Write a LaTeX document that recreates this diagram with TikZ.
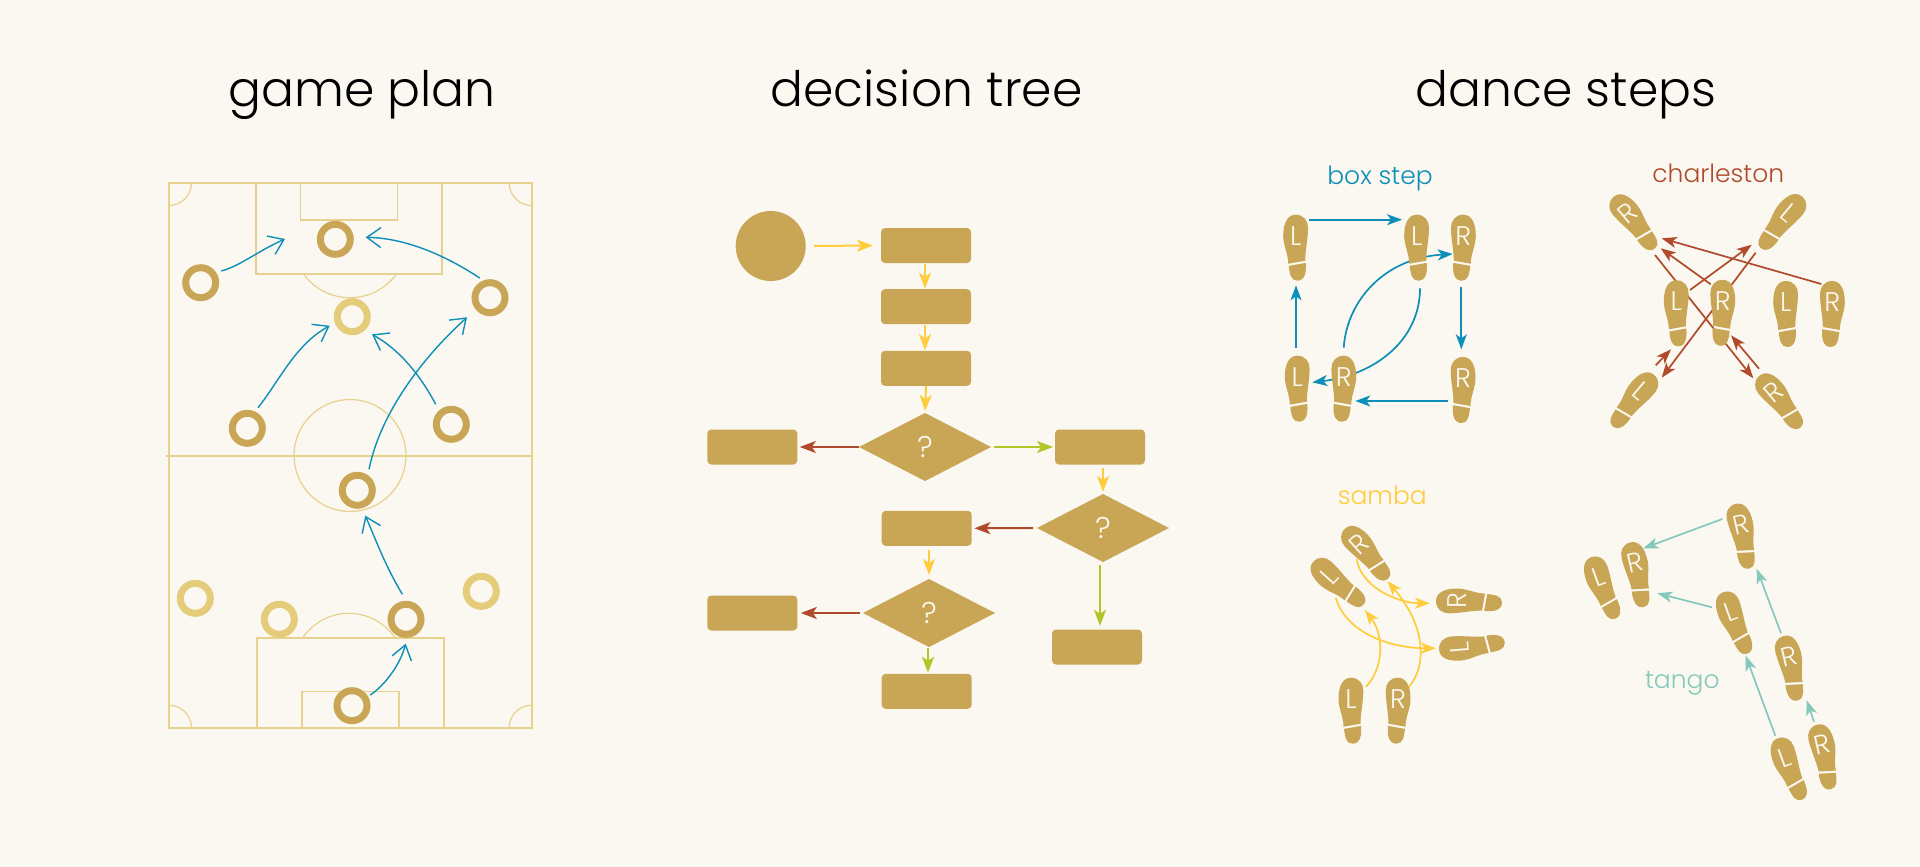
\documentclass[tikz,border=0pt]{standalone}
\usepackage{fontspec}
\setmainfont{Poppins Light}
\usetikzlibrary{arrows.meta,shapes.geometric}
\definecolor{cbg}{HTML}{FBF8F1}
\definecolor{cgold}{HTML}{C8A656}
\definecolor{clight}{HTML}{E5CC7B}
\definecolor{cline}{HTML}{E8D18C}
\definecolor{cblue}{HTML}{0E8FB8}
\definecolor{cyel}{HTML}{FFCC3E}
\definecolor{cred}{HTML}{B04A2A}
\definecolor{cgreen}{HTML}{B5C427}
\definecolor{cteal}{HTML}{85C9BC}
\tikzset{
  pitchline/.style={draw=cline,line width=1.6pt},
  pitchthin/.style={draw=cline,line width=1.2pt},
  ringd/.style={circle,draw=cgold,line width=7pt,minimum size=30pt,inner sep=0pt,outer sep=0pt},
  ringl/.style={ringd,draw=clight},
  pass/.style={draw=cblue,line width=1.4pt,-{Straight Barb[length=14pt,width=20pt]}},
  flowbox/.style={rectangle,rounded corners=4pt,fill=cgold,minimum width=90pt,minimum height=35pt,inner sep=0pt,outer sep=0pt},
  flowq/.style={diamond,fill=cgold,minimum width=132pt,minimum height=68pt,inner sep=0pt,outer sep=0pt,text=cbg,font=\fontsize{30}{30}\selectfont},
  flowy/.style={draw=cyel,line width=2pt,-{Stealth[length=16pt,width=12pt,inset=4pt]}},
  flowr/.style={flowy,draw=cred},
  flowg/.style={flowy,draw=cgreen},
  mv/.style={line width=1.7pt,-{Stealth[length=15pt,width=11pt,inset=4pt]}},
  footletter/.style={transform shape,inner sep=0pt,outer sep=0pt,text=cbg,font=\fontsize{27}{27}\selectfont},
  bigtitle/.style={anchor=base,text=black,font=\fontsize{48.8}{48.8}\selectfont},
  dancename/.style={anchor=center,font=\fontsize{25}{25}\selectfont},
}
\newcommand\stepfoot[6]{%
  \begin{scope}[shift={(#2,#3)},rotate=#4]
    \begin{scope}[xscale=#5]
      \fill[cgold] (0,-33) .. controls (8,-33) and (12.3,-27) .. (12.3,-20)
        .. controls (12.3,-8) and (9.5,2) .. (9.5,13) -- (-7.5,16)
        .. controls (-7.5,6) and (-12.5,-2) .. (-12.5,-12)
        .. controls (-12.5,-25) and (-8,-33) .. (0,-33) -- cycle;
      \fill[cgold] (-7,18.2) -- (10,15.2) .. controls (11,25) and (9,33) .. (1.5,33)
        .. controls (-5,33) and (-6,26) .. (-7,18.2) -- cycle;
    \end{scope}
    \node[footletter] (#1) at (0,-12) {#6};
  \end{scope}}
\newcommand\lfoot[4]{\stepfoot{#1}{#2}{#3}{#4}{1}{L}}
\newcommand\rfoot[4]{\stepfoot{#1}{#2}{#3}{#4}{-1}{R}}
\begin{document}
\begin{tikzpicture}[x=1pt,y=-1pt]
\useasboundingbox (0,0) rectangle (1920,867);
\fill[cbg] (0,0) rectangle (1920,867);
% titles
\node[bigtitle] (t1) at (362,106.5) {game plan};
\node[bigtitle] (t2) at (926.5,106.5) {decision tree};
\node[bigtitle] (t3) at (1566,106.5) {dance steps};
% pitch
\draw[pitchline] (169,183) rectangle (531.7,727.7);
\draw[pitchline] (166,455.7) -- (531.7,455.7);
\draw[pitchline] (255.7,183) rectangle (442,273.7);
\draw[pitchline] (300.3,183) rectangle (397.3,219.7);
\draw[pitchline] (257,637.7) rectangle (443.7,727.7);
\draw[pitchline] (301.7,691.3) rectangle (399,727.7);
\draw[pitchthin] (350,455.5) circle[radius=56pt];
\draw[pitchthin] (303.3,273.7) .. controls (326.2,305.7) and (373.8,305.7) .. (396.7,273.7);
\draw[pitchthin] (302.7,637.7) .. controls (325.7,605.2) and (372,605.2) .. (395,637.7);
\draw[pitchthin] (169,205.5) .. controls (181.4,205.5) and (191.5,195.4) .. (191.5,183);
\draw[pitchthin] (531.7,205.5) .. controls (519.3,205.5) and (509.2,195.4) .. (509.2,183);
\draw[pitchthin] (169,705.2) .. controls (181.4,705.2) and (191.5,715.3) .. (191.5,727.7);
\draw[pitchthin] (531.7,705.2) .. controls (519.3,705.2) and (509.2,715.3) .. (509.2,727.7);
% players
\node[ringd] (p1) at (335.3,239.3) {};
\node[ringd] (p2) at (200.7,282.7) {};
\node[ringd] (p3) at (490,297.7) {};
\node[ringd] (p4) at (247.3,428.3) {};
\node[ringd] (p5) at (451.3,424.3) {};
\node[ringd] (p6) at (357.3,490.3) {};
\node[ringd] (p7) at (406,619.3) {};
\node[ringd] (p8) at (352,705.7) {};
\node[ringl] (q1) at (352.3,316.7) {};
\node[ringl] (q2) at (195.3,598.3) {};
\node[ringl] (q3) at (279.3,619.3) {};
\node[ringl] (q4) at (481.3,591.3) {};
% passes
\coordinate (g1a) at (221.3,271); \coordinate (g1b) at (285,239);
\draw[pass] (g1a) .. controls (240,266) and (258,251) .. (g1b);
\coordinate (g2a) at (258,407.7); \coordinate (g2b) at (329.7,325.7);
\draw[pass] (g2a) .. controls (280,380) and (295,345) .. (g2b);
\coordinate (g3a) at (435.7,404.3); \coordinate (g3b) at (372,334.3);
\draw[pass] (g3a) .. controls (420,375) and (400,350) .. (g3b);
\coordinate (g4a) at (369,469.3); \coordinate (g4b) at (467,317.3);
\draw[pass] (g4a) .. controls (380,415) and (420,360) .. (g4b);
\coordinate (g5a) at (479.7,278); \coordinate (g5b) at (365.7,237.3);
\draw[pass] (g5a) .. controls (445,255) and (405,238) .. (g5b);
\coordinate (g6a) at (402.3,594.3); \coordinate (g6b) at (365.3,515.7);
\draw[pass] (g6a) .. controls (385,565) and (378,545) .. (g6b);
\coordinate (g7a) at (370.3,695); \coordinate (g7b) at (405.7,643.7);
\draw[pass] (g7a) .. controls (385,685) and (400,665) .. (g7b);
% flowchart
\node[circle,fill=cgold,minimum size=70pt,inner sep=0pt,outer sep=0pt] (start) at (770.7,246) {};
\node[flowbox] (b1) at (926,245.5) {};
\node[flowbox] (b2) at (926,306.7) {};
\node[flowbox] (b3) at (926,368.3) {};
\node[flowbox] (bl) at (752.3,447) {};
\node[flowbox] (br) at (1100,447) {};
\node[flowq] (d1) at (925,447) {?};
\node[flowq] (d2) at (1103,528) {?};
\node[flowbox] (b4) at (926.7,528.3) {};
\node[flowq] (d3) at (929,613) {?};
\node[flowbox] (b5) at (752.3,613) {};
\node[flowbox] (b6) at (926.7,691.3) {};
\node[flowbox] (b7) at (1097,647) {};
\draw[flowy,shorten <=8.3pt,shorten >=8pt] (start.east) -- (b1.west);
\draw[flowy,shorten <=1pt,shorten >=0.5pt] ([xshift=-1pt]b1.south) -- ([xshift=-1pt]b2.north);
\draw[flowy,shorten <=1pt,shorten >=0.5pt] ([xshift=-1pt]b2.south) -- ([xshift=-1pt]b3.north);
\draw[flowy,shorten >=2pt] (b3.south) -- (d1.north);
\draw[flowr,shorten <=0pt,shorten >=2.5pt] (d1.west) -- (bl.east);
\draw[flowg,shorten <=3pt,shorten >=2pt] (d1.east) -- (br.west);
\draw[flowy,shorten <=3pt,shorten >=2pt] ([xshift=3pt]br.south) -- (d2.north);
\draw[flowr,shorten <=4pt,shorten >=2.7pt] (d2.west) -- (b4.east);
\draw[flowg,shorten <=3pt,shorten >=3.7pt] ([xshift=-3pt]d2.south) -- ([xshift=3pt]b7.north);
\draw[flowy,shorten <=4.5pt,shorten >=4pt] ([xshift=2.3pt]b4.south) -- (d3.north);
\draw[flowr,shorten <=3pt,shorten >=3.5pt] (d3.west) -- (b5.east);
\draw[flowg,shorten <=1pt,shorten >=1pt] ([xshift=-1pt]d3.south) -- ([xshift=1.3pt]b6.north);
% box step
\node[dancename,text=cblue] (n1) at (1380,178) {box step};
\coordinate (x1a) at (1308.7,219.7); \coordinate (x1b) at (1402,219.7);
\coordinate (x2a) at (1461.3,287); \coordinate (x2b) at (1461.3,349.3);
\coordinate (x3a) at (1448.3,401); \coordinate (x3b) at (1355.3,401);
\coordinate (x4a) at (1296,347.7); \coordinate (x4b) at (1296,285.3);
\coordinate (x5a) at (1343.7,347.7); \coordinate (x5b) at (1452.7,254);
\coordinate (x6a) at (1420,288.3); \coordinate (x6b) at (1312.3,382.3);
\draw[mv,draw=cblue] (x1a) -- (x1b);
\draw[mv,draw=cblue] (x2a) -- (x2b);
\draw[mv,draw=cblue] (x3a) -- (x3b);
\draw[mv,draw=cblue] (x4a) -- (x4b);
\draw[mv,draw=cblue] (x5a) .. controls (1347,300) and (1385,258) .. (x5b);
\draw[mv,draw=cblue] (x6a) .. controls (1420,340) and (1375,375) .. (x6b);
\lfoot{bs1}{1295.7}{247.7}{0}
\lfoot{bs2}{1416.7}{247.7}{0}
\rfoot{bs3}{1463.3}{247.7}{0}
\lfoot{bs4}{1297.3}{388.7}{0}
\rfoot{bs5}{1343.7}{388.7}{0}
\rfoot{bs6}{1463}{390}{0}
% charleston
\node[dancename,text=cred] (n2) at (1718.3,173.3) {charleston};
\coordinate (c1a) at (1821.3,284); \coordinate (c1b) at (1661.7,238.3);
\coordinate (c2a) at (1710.7,284.3); \coordinate (c2b) at (1660.7,248.3);
\coordinate (c3a) at (1690,290); \coordinate (c3b) at (1751.7,244.7);
\coordinate (c4a) at (1755.7,252.7); \coordinate (c4b) at (1661.7,377.7);
\coordinate (c5a) at (1655,255); \coordinate (c5b) at (1753.3,378.3);
\coordinate (c6a) at (1759,368.7); \coordinate (c6b) at (1731,335.3);
\coordinate (c7a) at (1655.7,365.3); \coordinate (c7b) at (1671,349.3);
\draw[mv,draw=cred] (c1a) -- (c1b);
\draw[mv,draw=cred] (c2a) -- (c2b);
\draw[mv,draw=cred] (c3a) -- (c3b);
\draw[mv,draw=cred] (c4a) -- (c4b);
\draw[mv,draw=cred] (c5a) -- (c5b);
\draw[mv,draw=cred] (c6a) -- (c6b);
\draw[mv,draw=cred] (c7a) -- (c7b);
\rfoot{ch1}{1635}{222}{40}
\lfoot{ch2}{1780.7}{221.7}{-40}
\lfoot{ch3}{1676.3}{313.3}{0}
\rfoot{ch4}{1722.7}{312.8}{0}
\lfoot{ch5}{1785.7}{314}{0}
\rfoot{ch6}{1832.3}{314}{0}
\lfoot{ch7}{1632.7}{400}{-40}
\rfoot{ch8}{1780.7}{401}{40}
% samba
\node[dancename,text=cyel] (n3) at (1382.3,495.7) {samba};
\coordinate (s1a) at (1366,686.7); \coordinate (s1b) at (1365,610);
\coordinate (s2a) at (1408.3,687.7); \coordinate (s2b) at (1387.3,581);
\coordinate (s3a) at (1356.7,559); \coordinate (s3b) at (1430,603.3);
\coordinate (s4a) at (1335.7,597.7); \coordinate (s4b) at (1436,648.3);
\draw[mv,draw=cyel] (s1a) .. controls (1384,668) and (1384,635) .. (s1b);
\draw[mv,draw=cyel] (s2a) .. controls (1428,665) and (1425,625) .. (s2b);
\draw[mv,draw=cyel] (s3a) .. controls (1360,585) and (1395,603) .. (s3b);
\draw[mv,draw=cyel] (s4a) .. controls (1345,630) and (1385,648) .. (s4b);
\rfoot{sa1}{1367.3}{553}{42}
\lfoot{sa2}{1337.7}{584}{48}
\rfoot{sa3}{1469}{601}{90}
\lfoot{sa4}{1472}{647}{95}
\lfoot{sa5}{1351}{710.7}{0}
\rfoot{sa6}{1398}{710.7}{0}
% tango
\node[dancename,text=cteal] (n4) at (1682.3,683.3) {tango};
\coordinate (t1a) at (1722.3,519); \coordinate (t1b) at (1643.3,548.3);
\coordinate (t2a) at (1712,607.3); \coordinate (t2b) at (1657.3,593.3);
\coordinate (t3a) at (1781,633.3); \coordinate (t3b) at (1756.7,568.7);
\coordinate (t4a) at (1775.3,735.7); \coordinate (t4b) at (1745.7,655.7);
\coordinate (t5a) at (1814,721.7); \coordinate (t5b) at (1806.7,700.3);
\draw[mv,draw=cteal] (t1a) -- (t1b);
\draw[mv,draw=cteal] (t2a) -- (t2b);
\draw[mv,draw=cteal] (t3a) -- (t3b);
\draw[mv,draw=cteal] (t4a) -- (t4b);
\draw[mv,draw=cteal] (t5a) -- (t5b);
\rfoot{ta1}{1743.3}{536}{13}
\rfoot{ta2}{1638}{574.5}{13}
\lfoot{ta3}{1602.3}{588.3}{20}
\lfoot{ta4}{1734.3}{623.3}{20}
\rfoot{ta5}{1791.7}{668}{13}
\lfoot{ta6}{1789}{769.3}{20}
\rfoot{ta7}{1825}{756.7}{13}
\end{tikzpicture}
\end{document}
